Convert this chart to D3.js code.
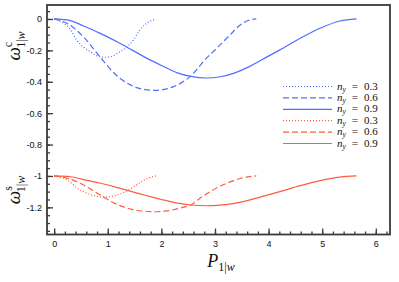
<!DOCTYPE html>
<html><head><meta charset="utf-8">
<script src="https://cdn.jsdelivr.net/npm/d3@7"></script>
<style>body{margin:0;background:#fff}svg{display:block}</style>
</head><body><svg id="c" width="399" height="282"></svg>
<script>
// ---- data ----
const nyLabels = ["0.3", "0.6", "0.9"];
const blueDotted = [[0,0],[0.15,-0.022],[0.3,-0.066],[0.42,-0.134],[0.55,-0.18],[0.67,-0.208],[0.8,-0.235],[0.95,-0.244],[1.1,-0.235],[1.23,-0.208],[1.35,-0.18],[1.48,-0.134],[1.6,-0.07],[1.75,-0.022],[1.9,0]];
const blueDashed = [[0,0],[0.25,-0.03],[0.55,-0.115],[0.85,-0.24],[1.15,-0.355],[1.42,-0.42],[1.7,-0.45],[1.88,-0.455],[2.1,-0.445],[2.41,-0.399],[2.6,-0.346],[2.78,-0.272],[3.03,-0.187],[3.28,-0.102],[3.47,-0.038],[3.65,-0.006],[3.77,0]];
const blueSolid = [[0,0],[0.3,-0.01],[0.55,-0.045],[0.85,-0.09],[1.165,-0.144],[1.45,-0.197],[1.75,-0.254],[2.0,-0.296],[2.3,-0.343],[2.55,-0.366],[2.83,-0.376],[3.1,-0.368],[3.36,-0.345],[3.6,-0.31],[3.84,-0.266],[4.21,-0.197],[4.59,-0.123],[4.96,-0.059],[5.33,-0.013],[5.64,0]];
const redDotted = [[0,-1],[0.15,-1.012],[0.3,-1.04],[0.42,-1.075],[0.55,-1.1],[0.67,-1.118],[0.8,-1.13],[0.93,-1.134],[1.08,-1.13],[1.2,-1.118],[1.33,-1.1],[1.48,-1.07],[1.6,-1.043],[1.73,-1.017],[1.9,-1]];
const redDashed = [[0,-1],[0.25,-1.015],[0.55,-1.058],[0.85,-1.12],[1.15,-1.178],[1.45,-1.213],[1.7,-1.225],[1.88,-1.228],[2.1,-1.223],[2.4,-1.2],[2.53,-1.188],[2.72,-1.142],[2.91,-1.1],[3.09,-1.066],[3.28,-1.038],[3.47,-1.016],[3.65,-1.004],[3.77,-1]];
const redSolid = [[0,-1],[0.3,-1.005],[0.55,-1.023],[0.85,-1.045],[1.165,-1.073],[1.45,-1.1],[1.75,-1.128],[2.0,-1.15],[2.3,-1.173],[2.55,-1.185],[2.83,-1.19],[3.1,-1.186],[3.36,-1.175],[3.6,-1.157],[3.84,-1.135],[4.21,-1.1],[4.59,-1.062],[4.96,-1.03],[5.33,-1.007],[5.64,-1]];
const xTicks = [0,1,2,3,4,5,6];
const yTicks = [0,-0.2,-0.4,-0.6,-0.8,-1,-1.2];
const yTickLabels = ["0","-0.2","-0.4","-0.6","-0.8","-1","-1.2"];

const blue = "#4f6dff", red = "#ff5c3e";
const series = [
  {d: blueDotted, c: blue, dash: "1,2", ny: nyLabels[0]},
  {d: blueDashed, c: blue, dash: "6,3", ny: nyLabels[1]},
  {d: blueSolid,  c: blue, dash: null,  ny: nyLabels[2]},
  {d: redDotted,  c: red,  dash: "1,2", ny: nyLabels[0]},
  {d: redDashed,  c: red,  dash: "6,3", ny: nyLabels[1]},
  {d: redSolid,   c: red,  dash: null,  ny: nyLabels[2]}
];

const L = 47, R = 390, T = 5, B = 234.5;
const x = d3.scaleLinear().domain([-0.134, 6.265]).range([L, R]);
const y = d3.scaleLinear().domain([0.089, -1.373]).range([T, B]);
const svg = d3.select("#c");
const axisColor = "#3a3a3a";

// curves
const line = d3.line().x(d => x(d[0])).y(d => y(d[1])).curve(d3.curveMonotoneX);
const curveG = svg.append("g");
series.forEach(s => {
  curveG.append("path").attr("d", line(s.d)).attr("fill", "none")
    .attr("stroke", s.c).attr("stroke-width", 1.2)
    .attr("stroke-dasharray", s.dash);
});

// axes (ticks inward)
const xMinor = d3.range(0, 6.3, 0.2).map(v => +v.toFixed(2));
const yMinor = d3.range(0.05, -1.38, -0.05).map(v => +v.toFixed(2));
const xAxis = svg.append("g").attr("transform", `translate(0,${B})`);
xAxis.call(d3.axisBottom(x).tickValues(xMinor).tickSizeInner(-3).tickSizeOuter(0).tickFormat(""));
xAxis.append("g").call(d3.axisBottom(x).tickValues(xTicks).tickSizeInner(-6).tickSizeOuter(0).tickPadding(6).tickFormat(d3.format("d")));
const yAxis = svg.append("g").attr("transform", `translate(${L},0)`);
yAxis.call(d3.axisLeft(y).tickValues(yMinor).tickSizeInner(-3).tickSizeOuter(0).tickFormat(""));
yAxis.append("g").call(d3.axisLeft(y).tickValues(yTicks).tickSizeInner(-6).tickSizeOuter(0).tickPadding(5).tickFormat((d,i) => yTickLabels[i]));
svg.selectAll(".domain").remove();
svg.selectAll(".tick line").attr("stroke", axisColor).attr("stroke-width", 1.3);
svg.selectAll(".tick text").attr("font-family", "Liberation Sans, Arial, sans-serif").attr("font-size", 9).attr("fill", "#111");

// frame
svg.append("rect").attr("x", L).attr("y", T).attr("width", R - L).attr("height", B - T)
  .attr("fill", "none").attr("stroke", axisColor).attr("stroke-width", 1.8);

// axis labels
const serif = "Liberation Serif, DejaVu Serif, serif";
function omegaLabel(cx, cy, sup) {
  const t = svg.append("text").attr("transform", `translate(${cx},${cy}) rotate(-90)`)
    .attr("font-family", serif).attr("font-size", 19).attr("fill", "#111").attr("text-anchor", "middle");
  t.append("tspan").attr("font-style", "italic").text("ω");
  t.append("tspan").attr("font-size", 12).attr("dy", -8).text(sup);
  t.append("tspan").attr("font-size", 12).attr("dy", 13).attr("dx", -6).text("1|");
  t.append("tspan").attr("font-size", 12).attr("font-style", "italic").text("w");
}
omegaLabel(20, 46, "c");
omegaLabel(20, 190, "s");

const xl = svg.append("text").attr("x", 221).attr("y", 267).attr("text-anchor", "middle")
  .attr("font-family", serif).attr("font-size", 18).attr("fill", "#111");
xl.append("tspan").attr("font-style", "italic").text("P");
xl.append("tspan").attr("font-size", 12).attr("dy", 4).text("1|");
xl.append("tspan").attr("font-size", 12).attr("font-style", "italic").text("w");

// legend
const lg = svg.append("g");
series.forEach((s, i) => {
  const yy = 86.5 + i * 11.4;
  lg.append("line").attr("x1", 283).attr("x2", 332).attr("y1", yy).attr("y2", yy)
    .attr("stroke", s.c).attr("stroke-width", 1.2).attr("stroke-dasharray", s.dash);
  const t = lg.append("text").attr("x", 337).attr("y", yy + 3)
    .attr("font-family", serif).attr("font-size", 11).attr("fill", "#111");
  t.append("tspan").attr("font-style", "italic").text("n");
  t.append("tspan").attr("font-style", "italic").attr("font-size", 7.5).attr("dy", 2).text("y");
  t.append("tspan").attr("dy", -2).attr("dx", 6).text("=");
  t.append("tspan").attr("dx", 6).text(s.ny);
});
</script></body></html>
